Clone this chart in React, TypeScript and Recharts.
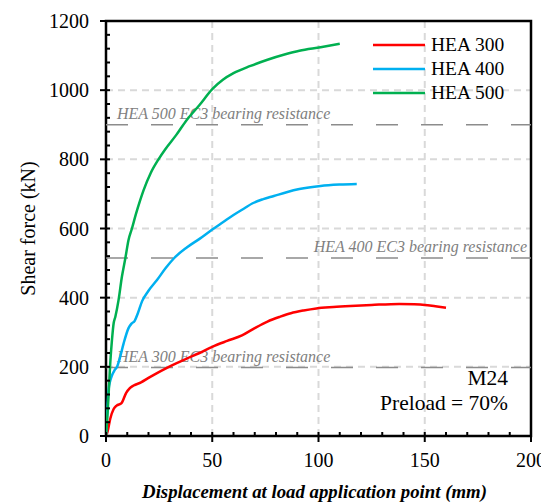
import React from 'react';
import {
  LineChart, Line, XAxis, YAxis, CartesianGrid, ReferenceLine, ReferenceArea, Legend, Label,
} from 'recharts';

const FONT = '"Liberation Serif", "Times New Roman", serif';

// Displacement (mm) and shear force (kN)
const hea300X = [0, 0.7, 2, 3.6, 5, 7.3, 9.5, 11, 13, 16.5, 20, 24, 28, 33, 38, 44, 50, 57, 64, 70, 76, 82, 87, 93, 99, 107, 115, 125, 138, 145, 150, 155, 160];
const hea300Y = [0, 12, 50, 78, 88, 95, 125, 137, 146, 155, 168, 182, 195, 210, 224, 240, 258, 275, 291, 312, 331, 345, 355, 363, 369, 373, 376, 379, 382, 381, 379, 375, 371];

const hea400X = [0, 0.5, 1.2, 2, 2.8, 4, 5.2, 6.5, 8.3, 10.6, 12, 13.5, 15, 17, 20, 24, 28, 32, 38, 44, 50, 55, 60, 65, 69, 74, 79, 85, 91, 101, 110, 118];
const hea400Y = [0, 60, 133, 160, 175, 190, 200, 225, 268, 312, 325, 333, 355, 390, 420, 451, 485, 514, 545, 570, 597, 618, 639, 658, 673, 685, 694, 705, 714, 723, 727, 729];

const hea500X = [0, 0.75, 2, 2.8, 3.6, 4.4, 5.9, 7.5, 9.1, 10.6, 12.2, 14, 16.1, 17.7, 21, 24.7, 28, 33, 38, 44, 50, 55, 60, 68, 76, 84, 91, 101, 110];
const hea500Y = [0, 66, 211, 277, 326, 345, 393, 461, 514, 567, 600, 640, 682, 711, 760, 800, 830, 870, 914, 957, 1003, 1030, 1049, 1070, 1088, 1103, 1114, 1124, 1134];

const seriesNames = ['HEA 300', 'HEA 400', 'HEA 500'];
const seriesColors = ['#ff0000', '#00b0f0', '#00b050'];

// EC3 bearing resistance levels (kN)
const ec3Values = [198, 515, 900];
const ec3Labels = ['HEA 300 EC3 bearing resistance', 'HEA 400 EC3 bearing resistance', 'HEA 500 EC3 bearing resistance'];

const xTicks = Array.from({ length: 21 }, (_, i) => i * 10);
const yTicks = Array.from({ length: 31 }, (_, i) => i * 40);
const xMajor = [0, 50, 100, 150, 200];
const yMajor = [0, 200, 400, 600, 800, 1000, 1200];

const toPts = (xs: number[], ys: number[]) => xs.map((x, i) => ({ x, y: ys[i] }));
const seriesData = [toPts(hea300X, hea300Y), toPts(hea400X, hea400Y), toPts(hea500X, hea500Y)];

const YTick = (props: any) => {
  const { x, y, payload } = props;
  const v = payload.value;
  const major = v % 200 === 0;
  return (
    <g>
      <line x1={major ? x - 6 : x} x2={x + 4} y1={y} y2={y} stroke="#000" strokeWidth={2} />
      {major && (
        <text x={x - 17} y={y} textAnchor="end" dominantBaseline="central" fontFamily={FONT} fontSize={20} fill="#000">
          {v}
        </text>
      )}
    </g>
  );
};

const XTick = (props: any) => {
  const { x, y, payload } = props;
  const v = payload.value;
  const major = v % 50 === 0;
  return (
    <g>
      <line x1={x} x2={x} y1={y - 4} y2={major ? y + 6 : y} stroke="#000" strokeWidth={2} />
      {major && (
        <text x={x} y={y + 24} textAnchor="middle" dominantBaseline="central" fontFamily={FONT} fontSize={20} fill="#000">
          {v}
        </text>
      )}
    </g>
  );
};

const renderLegend = () => (
  <div style={{ fontFamily: FONT, fontSize: 19.5, color: '#000' }}>
    {seriesNames.map((n, i) => (
      <div key={n} style={{ display: 'flex', alignItems: 'center', height: 24 }}>
        <svg width={52} height={6} style={{ marginRight: 6 }}>
          <line x1={0} x2={52} y1={3} y2={3} stroke={seriesColors[i]} strokeWidth={2.5} />
        </svg>
        <span style={{ lineHeight: '24px' }}>{n}</span>
      </div>
    ))}
  </div>
);

const ec3Label = (i: number) => (props: any) => {
  const vb = props.viewBox || {};
  const right = i === 1;
  return (
    <text
      x={right ? vb.x + vb.width - 4 : vb.x + 11}
      y={vb.y - 6}
      textAnchor={right ? 'end' : 'start'}
      fontFamily={FONT}
      fontStyle="italic"
      fontSize={16}
      fill="#808080"
    >
      {ec3Labels[i]}
    </text>
  );
};

export default function App() {
  return (
    <div style={{ position: 'relative', width: 541, height: 496 }}>
      <LineChart width={541} height={496} margin={{ top: 13, right: 18, bottom: 38, left: 0 }}>
        <CartesianGrid
          stroke="#d9d9d9"
          strokeWidth={2}
          strokeDasharray="7 5"
          horizontalValues={yMajor}
          verticalValues={xMajor}
        />
        <XAxis
          type="number"
          dataKey="x"
          domain={[0, 200]}
          ticks={xTicks}
          interval={0}
          tickSize={0}
          tickMargin={0}
          tickLine={false}
          axisLine={false}
          tick={<XTick />}
          height={30}
          allowDataOverflow
        >
          <Label
            content={(p: any) => {
              const vb = p.viewBox || {};
              return (
                <text
                  x={vb.x + vb.width / 2 - 4}
                  y={vb.y + 62}
                  textAnchor="middle"
                  fontFamily={FONT}
                  fontStyle="italic"
                  fontWeight="bold"
                  fontSize={18.8}
                  fill="#000"
                >
                  Displacement at load application point (mm)
                </text>
              );
            }}
          />
        </XAxis>
        <YAxis
          type="number"
          domain={[0, 1200]}
          ticks={yTicks}
          interval={0}
          tickSize={0}
          tickMargin={0}
          tickLine={false}
          axisLine={false}
          tick={<YTick />}
          width={98}
          allowDataOverflow
        >
          <Label
            content={(p: any) => {
              const vb = p.viewBox || {};
              const cx = 20;
              const cy = vb.y + vb.height / 2;
              return (
                <text
                  x={cx}
                  y={cy}
                  transform={`rotate(-90 ${cx} ${cy})`}
                  textAnchor="middle"
                  dominantBaseline="central"
                  fontFamily={FONT}
                  fontSize={20}
                  fill="#000"
                >
                  Shear force (kN)
                </text>
              );
            }}
          />
        </YAxis>
        {ec3Values.map((v, i) => (
          <ReferenceLine
            key={v}
            y={v}
            stroke="#8c8c8c"
            strokeWidth={1.5}
            strokeDasharray="22 23"
            label={ec3Label(i)}
          />
        ))}
        {seriesData.map((d, i) => (
          <Line
            key={seriesNames[i]}
            data={d}
            dataKey="y"
            name={seriesNames[i]}
            type="monotone"
            stroke={seriesColors[i]}
            strokeWidth={2.5}
            dot={false}
            activeDot={false}
            isAnimationActive={false}
          />
        ))}
        <ReferenceArea x1={0} x2={200} y1={0} y2={1200} fill="none" fillOpacity={0} stroke="#000" strokeWidth={2.5} />
        <Legend
          layout="vertical"
          align="center"
          verticalAlign="middle"
          content={renderLegend}
          wrapperStyle={{ position: 'absolute', left: 365, top: 25, width: 140 }}
        />
      </LineChart>
      <div
        style={{
          position: 'absolute',
          right: 541 - 500,
          top: 358,
          textAlign: 'right',
          fontFamily: FONT,
          fontSize: 21.5,
          lineHeight: '25px',
          color: '#000',
        }}
      >
        <div>M24</div>
        <div style={{ whiteSpace: 'nowrap' }}>Preload = 70%</div>
      </div>
    </div>
  );
}
